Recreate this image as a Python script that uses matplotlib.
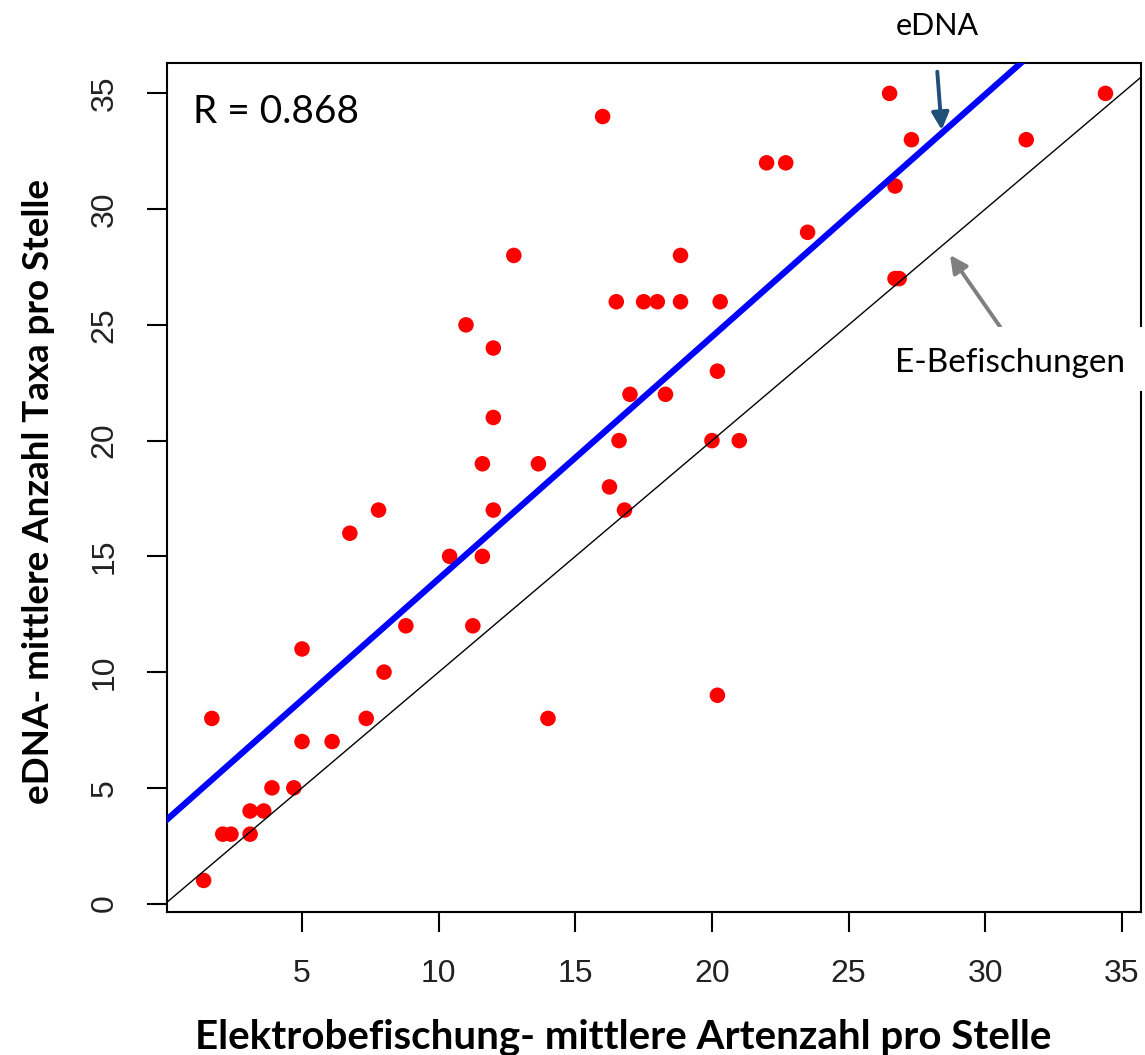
import matplotlib
matplotlib.use("Agg")
import matplotlib.pyplot as plt
from matplotlib.patches import Rectangle

# site means: electrofishing (x) vs eDNA (y)
efish = [1.4, 2.1, 2.4, 3.1, 3.1, 3.6, 3.9, 4.7, 1.7, 5.0, 6.1, 7.35, 5.0, 8.0,
         8.8, 11.25, 6.75, 7.8, 10.4, 11.6, 12.0, 14.0, 16.25, 16.8, 16.6, 13.65,
         11.6, 12.0, 12.0, 11.0, 17.0, 18.3, 20.2, 20.0, 21.0, 20.2, 12.75, 16.0,
         16.5, 17.5, 18.0, 18.85, 18.85, 20.3, 22.0, 22.7, 23.5, 26.5, 27.3, 26.7,
         26.7, 26.85, 31.5, 34.4]
edna = [1, 3, 3, 3, 4, 4, 5, 5, 8, 7, 7, 8, 11, 10,
        12, 12, 16, 17, 15, 15, 17, 8, 18, 17, 20, 19,
        19, 21, 24, 25, 22, 22, 23, 20, 20, 9, 28, 34,
        26, 26, 26, 26, 28, 26, 32, 32, 29, 35, 33, 31,
        27, 27, 33, 35]

# fitted line (blue) and 1:1 line (black)
fit_intercept = 3.57
fit_slope = 1.046
r_text = "R = 0.868"

xticks = [5, 10, 15, 20, 25, 30, 35]
yticks = [0, 5, 10, 15, 20, 25, 30, 35]

W, H = 1145, 1055
fig = plt.figure(figsize=(W / 100, H / 100), dpi=100)
ax = fig.add_axes([167.3 / W, 1 - 911.7 / H, (1141 - 167.3) / W, (911.7 - 63.3) / H])

ax.scatter(efish, edna, s=125, color="#ff0000", edgecolors="none", zorder=2)
ax.axline((0, fit_intercept), slope=fit_slope, color="#0000ff", lw=4.5, zorder=3)
ax.axline((0, 0), slope=1, color="black", lw=1.0, zorder=3)

ax.set_xlim(0.07, 35.7)
ax.set_ylim(-0.35, 36.3)
ax.set_xticks(xticks)
ax.set_yticks(yticks)
for s in ax.spines.values():
    s.set_linewidth(1.5)
ax.tick_params(length=14.4, width=1.5, labelsize=23, pad=20, labelcolor="#222222")
for lab in ax.get_xticklabels() + ax.get_yticklabels():
    lab.set_fontfamily("Liberation Sans")
plt.setp(ax.get_yticklabels(), rotation=90, va="center")

ax.text(0.0264, 0.9296, r_text, transform=ax.transAxes, fontsize=28,
        family="Lato", va="baseline", ha="left")

# axis titles
fig.text(623 / W, 1 - 1048 / H, "Elektrobefischung- mittlere Artenzahl pro Stelle",
         fontsize=29, fontweight="bold", family="Lato", ha="center", va="baseline")
fig.text(39 / W, 1 - 492 / H, "eDNA- mittlere Anzahl Taxa pro Stelle",
         fontsize=26.5, fontweight="bold", family="Lato", rotation=90,
         ha="center", va="center")

# white box over the right edge behind the label
fig.add_artist(Rectangle((880 / W, 1 - 391 / H), (W - 880) / W, 64 / H,
                         transform=fig.transFigure, fc="white", ec="none", zorder=1))

fig.text(937 / W, 1 - 35 / H, "eDNA", fontsize=22, family="Lato",
         ha="center", va="baseline")
fig.text(895 / W, 1 - 372 / H, "E-Befischungen", fontsize=24, family="Lato",
         ha="left", va="baseline", zorder=5)

ax.annotate("", xy=(941.7, H - 130), xytext=(937.3, H - 71.7),
            xycoords="figure pixels", textcoords="figure pixels", annotation_clip=False,
            arrowprops=dict(arrowstyle="-|>", mutation_scale=26, lw=2.8,
                            color="#1f4e79", shrinkA=0, shrinkB=0), zorder=6)
ax.annotate("", xy=(950, H - 255), xytext=(1000, H - 326.7),
            xycoords="figure pixels", textcoords="figure pixels", annotation_clip=False,
            arrowprops=dict(arrowstyle="-|>", mutation_scale=26, lw=2.8,
                            color="#7f7f7f", shrinkA=0, shrinkB=0), zorder=6)

fig.savefig("out.png", dpi=100)
